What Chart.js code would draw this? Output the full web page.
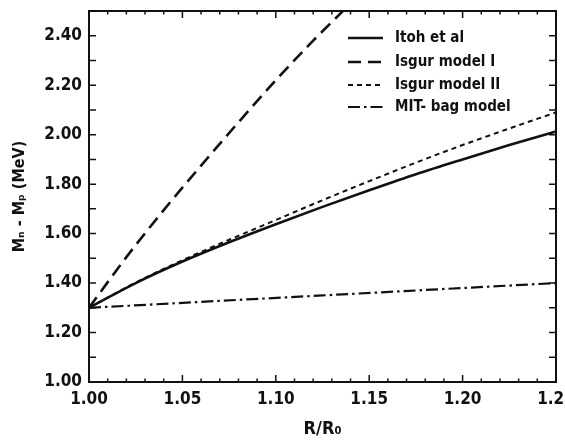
<!DOCTYPE html>
<html><head><meta charset="utf-8">
<script src="https://cdn.jsdelivr.net/npm/chart.js@4.4.0/dist/chart.umd.min.js"></script>
<style>html,body{margin:0;padding:0;background:#fff}</style>
</head><body>
<canvas id="c" width="565" height="440"></canvas>
<script>
// ---- data (M_n - M_p in MeV vs R/R0) ----
const seriesLabels = ['Itoh et al', 'Isgur model I', 'Isgur model II', 'MIT- bag model'];
const itohR   = [1.000, 1.025, 1.050, 1.075, 1.100, 1.125, 1.150, 1.175, 1.200, 1.225, 1.250];
const itohV   = [1.300, 1.400, 1.487, 1.565, 1.638, 1.708, 1.775, 1.840, 1.900, 1.958, 2.013];
const isgur1R = [1.000, 1.020, 1.040, 1.060, 1.080, 1.100, 1.120, 1.140];
const isgur1V = [1.300, 1.505, 1.695, 1.875, 2.050, 2.220, 2.380, 2.530];
const isgur2R = [1.000, 1.025, 1.050, 1.075, 1.100, 1.125, 1.150, 1.175, 1.200, 1.225, 1.250];
const isgur2V = [1.300, 1.402, 1.492, 1.575, 1.655, 1.735, 1.812, 1.887, 1.958, 2.025, 2.090];
const mitR    = [1.000, 1.125, 1.250];
const mitV    = [1.300, 1.350, 1.400];
const xTickValues = [1.00, 1.05, 1.10, 1.15, 1.20, 1.25];
const yTickValues = [1.00, 1.20, 1.40, 1.60, 1.80, 2.00, 2.20, 2.40];
const xTitle = 'R/R\u2080';
const yTitle = 'M\u2099 - M\u209A (MeV)';

const FONT = "'Liberation Sans Narrow', 'DejaVu Sans Condensed', 'Roboto Condensed', sans-serif";
const INK = '#111';
const pts = (xs, ys) => xs.map((x, i) => ({x, y: ys[i]}));

const datasets = [
  {label: seriesLabels[0], data: pts(itohR, itohV), borderWidth: 2.6, borderDash: []},
  {label: seriesLabels[1], data: pts(isgur1R, isgur1V), borderWidth: 2.6, borderDash: [13, 7]},
  {label: seriesLabels[2], data: pts(isgur2R, isgur2V), borderWidth: 2.0, borderDash: [5, 4]},
  {label: seriesLabels[3], data: pts(mitR, mitV), borderWidth: 2.2, borderDash: [12, 4, 2.5, 4]}
].map(d => Object.assign(d, {borderColor: INK, backgroundColor: INK, pointRadius: 0,
  tension: 0.4, cubicInterpolationMode: 'monotone', fill: false}));

const framePlugin = {
  id: 'frame',
  afterDatasetsDraw(chart) {
    const {ctx, chartArea: a, scales: {x, y}} = chart;
    ctx.save();
    ctx.strokeStyle = INK; ctx.setLineDash([]);
    ctx.lineWidth = 2;
    ctx.strokeRect(a.left, a.top, a.right - a.left, a.bottom - a.top);
    ctx.lineWidth = 1.5;
    ctx.beginPath();
    // x ticks (every 0.01, major every 0.05), inward on bottom and top
    for (let k = 0; k <= 25; k++) {
      const v = 1 + k / 100, px = x.getPixelForValue(v);
      const len = (k % 5 === 0) ? 7 : 3.5;
      ctx.moveTo(px, a.bottom); ctx.lineTo(px, a.bottom - len);
      ctx.moveTo(px, a.top); ctx.lineTo(px, a.top + len);
    }
    // y ticks (every 0.1), inward on left and right
    for (let k = 0; k <= 15; k++) {
      const v = 1 + k / 10, py = y.getPixelForValue(v);
      ctx.moveTo(a.left, py); ctx.lineTo(a.left + 7, py);
      ctx.moveTo(a.right, py); ctx.lineTo(a.right - 7, py);
    }
    ctx.stroke();
    // legend
    const lx0 = 348, lx1 = 383, tx = 395, rows = [38, 62, 85, 107];
    ctx.font = "bold 15px " + FONT;
    ctx.fillStyle = INK; ctx.textBaseline = 'middle'; ctx.textAlign = 'left';
    chart.data.datasets.forEach((d, i) => {
      ctx.lineWidth = d.borderWidth;
      ctx.setLineDash(d.borderDash);
      ctx.beginPath(); ctx.moveTo(lx0, rows[i]); ctx.lineTo(lx1, rows[i]); ctx.stroke();
      ctx.fillText(d.label, tx, rows[i]);
    });
    ctx.restore();
  }
};

new Chart(document.getElementById('c'), {
  type: 'line',
  data: {datasets},
  options: {
    responsive: false, animation: false, devicePixelRatio: 1,
    layout: {padding: {top: 11, right: 9, bottom: 0, left: 0}},
    plugins: {legend: {display: false}, tooltip: {enabled: false}},
    scales: {
      x: {
        type: 'linear', min: 1.0, max: 1.25,
        afterBuildTicks: s => { s.ticks = xTickValues.map(v => ({value: v})); },
        afterFit: s => { s.height = 58; s.paddingLeft = 0; s.paddingRight = 0; },
        ticks: {callback: v => Number(v).toFixed(2), color: INK, padding: 7, maxRotation: 0, autoSkip: false,
          font: {family: FONT, size: 17, weight: 'bold'}},
        grid: {display: false, drawTicks: false}, border: {display: false},
        title: {display: true, text: xTitle, color: INK, padding: {top: 0, bottom: 0},
          font: {family: FONT, size: 18, weight: 'bold'}}
      },
      y: {
        type: 'linear', min: 1.0, max: 2.5,
        afterBuildTicks: s => { s.ticks = yTickValues.map(v => ({value: v})); },
        afterFit: s => { s.width = 89; s.paddingTop = 0; s.paddingBottom = 0; },
        ticks: {callback: v => Number(v).toFixed(2), color: INK, padding: 7, autoSkip: false,
          font: {family: FONT, size: 17, weight: 'bold'}},
        grid: {display: false, drawTicks: false}, border: {display: false},
        title: {display: true, text: yTitle, color: INK, padding: {top: 10, bottom: 0},
          font: {family: FONT, size: 16, weight: 'bold'}}
      }
    }
  },
  plugins: [framePlugin]
});
</script>
</body></html>
